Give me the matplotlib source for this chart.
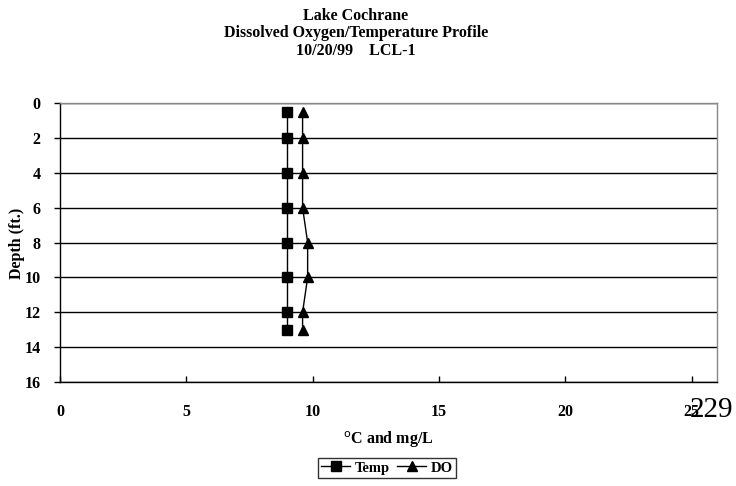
import matplotlib
matplotlib.use("Agg")
import matplotlib.pyplot as plt

depth = [0.5, 2, 4, 6, 8, 10, 12, 13]
temp = [9.0, 9.0, 9.0, 9.0, 9.0, 9.0, 9.0, 9.0]
do = [9.6, 9.6, 9.6, 9.6, 9.8, 9.8, 9.6, 9.6]
x_ticks = [0, 5, 10, 15, 20, 25]
y_ticks = [0, 2, 4, 6, 8, 10, 12, 14, 16]

plt.rcParams['font.family'] = ['Liberation Serif', 'DejaVu Serif']

fig = plt.figure(figsize=(7.36, 4.86), dpi=100)
ax = fig.add_axes([60/736, 1-382/486, (717-60)/736, (382-103)/486])

ax.plot(temp, depth, color='black', marker='s', markersize=7, linewidth=1, label='Temp')
ax.plot(do, depth, color='black', marker='^', markersize=7.5, linewidth=1, label='DO')

ax.set_xlim(0, 26)
ax.set_ylim(16, 0)
ax.set_xticks(x_ticks)
ax.set_yticks(y_ticks)
ax.yaxis.grid(True, color='black', linewidth=1)
ax.set_axisbelow(True)
for lbl in ax.get_xticklabels() + ax.get_yticklabels():
    lbl.set_fontweight('bold')
    lbl.set_fontsize(11.5)
ax.tick_params(axis='x', direction='in', length=4, pad=16, width=1)
ax.tick_params(axis='y', direction='out', length=4, pad=10, width=1)
ax.spines['top'].set_color('#888888')
ax.spines['right'].set_color('#888888')
ax.spines['left'].set_color('black')
ax.spines['bottom'].set_color('black')
for s in ax.spines.values():
    s.set_linewidth(1)

cx = 356/736
fig.text(cx, 1-16/486, 'Lake Cochrane', ha='center', va='center', fontsize=11.5, fontweight='bold')
fig.text(cx, 1-33/486, 'Dissolved Oxygen/Temperature Profile', ha='center', va='center', fontsize=11.5, fontweight='bold')
fig.text(cx, 1-51/486, '10/20/99    LCL-1', ha='center', va='center', fontsize=11.5, fontweight='bold')

fig.text(17/736, 1-243/486, 'Depth (ft.)', rotation=90, ha='center', va='center', fontsize=11.5, fontweight='bold')
fig.text(388/736, 1-440/486, r'$^{\mathrm{o}}$C and mg/L', ha='center', va='center', fontsize=11.5, fontweight='bold')

leg = fig.legend(loc='center', bbox_to_anchor=(387/736, 1-468/486), ncol=2, frameon=True,
                 prop={'weight': 'bold', 'size': 10.5}, fancybox=False, edgecolor='black',
                 handlelength=2.0, columnspacing=0.5, handletextpad=0.3, borderpad=0.25)
leg.get_frame().set_linewidth(1)

fig.text(712/736, 1-410/486, '229', ha='center', va='center', fontsize=21)

fig.savefig('out.png', dpi=100)
